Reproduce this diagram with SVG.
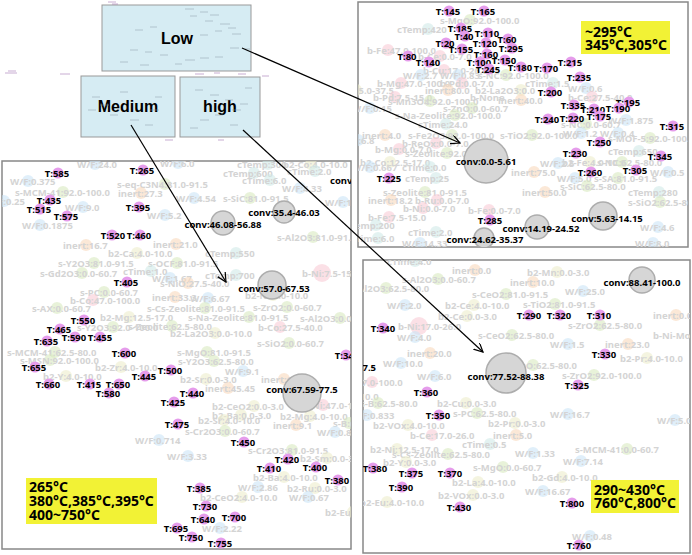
<svg xmlns="http://www.w3.org/2000/svg" width="692" height="555" viewBox="0 0 692 555">
<style>
.t{font-family:"Noto Sans","DejaVu Sans",sans-serif;font-weight:bold;font-size:9.5px;fill:#000;text-anchor:middle}
.ts{font-family:"Noto Sans","DejaVu Sans",sans-serif;font-weight:bold;font-size:9.5px;fill:#000}
.f{font-family:"Noto Sans","DejaVu Sans",sans-serif;font-weight:bold;font-size:9.5px;fill:#d4d4d4}
.p{fill:#e59ceb}
.cv{fill:#d6d6d6;stroke:#adadad;stroke-width:1.5}
.cb,.co,.cp,.cg,.cy,.ct{opacity:0.6}
.cb{fill:#cbe5f6}.co{fill:#f8d8bc}.cp{fill:#f8ccd5}.cg{fill:#d8e9c0}.cy{fill:#ececcc}.ct{fill:#d0eae8}
.panel{fill:#fff;stroke:#888;stroke-width:1.5}
.thumb{fill:#d6ecf3;stroke:#999;stroke-width:1}
.tl{font-family:"Liberation Sans",Arial,sans-serif;font-weight:bold;font-size:16px;fill:#000;text-anchor:middle}
.note{fill:#f2f235}
.nt{font-family:"Noto Sans","DejaVu Sans",sans-serif;font-weight:bold;font-size:14px;fill:#000}
.arr{stroke:#000;stroke-width:1.2;fill:none;marker-end:url(#ah)}
</style>
<defs>
<marker id="ah" markerUnits="userSpaceOnUse" markerWidth="10" markerHeight="10" refX="9" refY="4.5" orient="auto">
<path d="M0,0 L9,4.5 L0,9" fill="none" stroke="#000" stroke-width="1.2"/>
</marker>
<clipPath id="clipA"><rect x="358" y="2" width="330" height="245"/></clipPath>
<clipPath id="clipB"><rect x="2" y="161" width="349" height="388"/></clipPath>
<clipPath id="clipC"><rect x="363" y="260" width="327" height="293"/></clipPath>
</defs>
<rect width="692" height="555" fill="#fff"/>

<!-- thumbnail -->
<g id="thumb-low"><rect class="thumb" x="102" y="5" width="149" height="66"/><text class="tl" x="177" y="44">Low</text></g>
<g id="thumb-medium"><rect class="thumb" x="81" y="76" width="94" height="61"/><text class="tl" x="128" y="112">Medium</text></g>
<g id="thumb-high"><rect class="thumb" x="180" y="77" width="80" height="60"/><text class="tl" x="220" y="112">high</text></g>
<path d="M185,9h9M200,12h8M190,16h7M210,15h9M205,21h8M220,24h10M228,28h8M215,31h7M232,34h9M200,35h8M135,30h8M150,27h7M130,50h8M145,52h7M160,55h8M185,60h10M200,58h9M215,57h8M230,48h9M245,49h5M120,62h8M140,65h9M175,64h7M92,97h8M100,105h9M88,110h8M110,115h8M130,120h9M145,125h8M150,110h9M120,92h8M155,97h7M195,90h8M210,95h9M225,100h8M240,104h8M232,110h9M215,115h8M200,120h9M230,125h8M245,88h7M190,128h8" stroke="#8a9aa5" stroke-width="0.8" opacity="0.6"/>
<path d="M108,2h8M112,4h6M8,71h8M5,73h12M60,74h10M195,74h9M238,74h8M214,73h6M262,76h7M165,140h8M218,140h6" stroke="#a070b0" stroke-width="0.8" opacity="0.7"/>

<!-- panel A: Low detail -->
<rect class="panel" x="358" y="2" width="330" height="245"/>
<g clip-path="url(#clipA)">
<g id="a-f1"><circle class="cg" cx="470" cy="20" r="6"/><text class="f" x="440" y="23.5">s-MgO:92.0-100.0</text></g>
<g id="a-f2"><circle class="ct" cx="428" cy="29" r="6"/><text class="f" x="397" y="32.5">cTemp:420</text></g>
<g id="a-f3"><circle class="cp" cx="388" cy="50" r="6"/><text class="f" x="367" y="53.5">b-Fe:47.0-100.0</text></g>
<g id="a-f4"><circle class="cp" cx="440" cy="56" r="6"/><text class="f" x="418" y="59.5">b-Ce:0.0-7.0</text></g>
<g id="a-f5"><circle class="cp" cx="444" cy="70" r="6"/><text class="f" x="423" y="73.5">b-Cu:17.0-26.0</text></g>
<g id="a-f6"><circle class="cb" cx="421" cy="75" r="6"/><text class="f" x="403" y="78.5">W/F:2.7</text></g>
<g id="a-f7"><circle class="cb" cx="458" cy="75" r="6"/><text class="f" x="440" y="78.5">W/F:0.83</text></g>
<g id="a-f8"><circle class="cg" cx="506" cy="75" r="6"/><text class="f" x="478" y="78.5">s-NC:92.0-100.0</text></g>
<g id="a-f9"><circle class="cp" cx="401" cy="83" r="6"/><text class="f" x="377" y="86.5">b-Mg:47.0-100.0</text></g>
<g id="a-f10"><circle class="cp" cx="462" cy="83" r="6"/><text class="f" x="440" y="86.5">b-Pd:0.0-7.0</text></g>
<g id="a-f11"><circle class="ct" cx="553" cy="83" r="6"/><text class="f" x="525" y="86.5">cTime:1.5</text></g>
<g id="a-f12"><circle class="cb" cx="586" cy="88" r="6"/><text class="f" x="568" y="91.5">W/F:0.6</text></g>
<g id="a-f13"><circle class="cy" cx="356" cy="90" r="6"/><text class="f" x="321" y="93.5">b2-Mo:25.0-37.5</text></g>
<g id="a-f14"><circle class="co" cx="448" cy="90" r="6"/><text class="f" x="425" y="93.5">inert:80.0</text></g>
<g id="a-f15"><circle class="cy" cx="521" cy="90" r="6"/><text class="f" x="475" y="93.5">b2-La2O3:0.0</text></g>
<g id="a-f16"><circle class="cp" cx="395" cy="97" r="6"/><text class="f" x="373" y="100.5">b-Pd:7.5-15.0</text></g>
<g id="a-f17"><text class="f" x="470" y="100.5">b-None</text></g>
<g id="a-f18"><circle class="co" cx="521" cy="100" r="6"/><text class="f" x="498" y="103.5">inert:40.0</text></g>
<g id="a-f19"><circle class="cp" cx="592" cy="97" r="6"/><text class="f" x="568" y="100.5">b-Ce:27.5-40.0</text></g>
<g id="a-f20"><circle class="cg" cx="430" cy="101" r="6"/><text class="f" x="388" y="104.5">s-Mn3O4:92.0-100.0</text></g>
<g id="a-f21"><circle class="cb" cx="370" cy="108" r="6"/><text class="f" x="352" y="111.5">W/F:0.15</text></g>
<g id="a-f22"><circle class="cg" cx="472" cy="108" r="6"/><text class="f" x="443" y="111.5">s-ZnO:0.0-60.7</text></g>
<g id="a-f25"><circle class="cg" cx="455" cy="115" r="6"/><text class="f" x="395" y="118.5">s-Na-Zeolite:92.0-100.0</text></g>
<g id="a-f26"><circle class="cb" cx="626" cy="120" r="6"/><text class="f" x="608" y="123.5">W/F:1.875</text></g>
<g id="a-f28"><circle class="ct" cx="446" cy="124" r="6"/><text class="f" x="418" y="127.5">cTime:24.0</text></g>
<g id="a-f29"><circle class="cg" cx="586" cy="124" r="6"/><text class="f" x="561" y="127.5">s-NC:0.0-60.7</text></g>
<g id="a-f30"><circle class="cb" cx="581" cy="133" r="6"/><text class="f" x="563" y="136.5">W/F:1.2</text></g>
<g id="a-f30b"><circle class="cb" cx="618" cy="133" r="6"/><text class="f" x="600" y="136.5">W/F:0.4</text></g>
<g id="a-f31"><circle class="co" cx="385" cy="135" r="6"/><text class="f" x="362" y="138.5">inert:4.0</text></g>
<g id="a-f32"><circle class="cg" cx="452" cy="135" r="6"/><text class="f" x="408" y="138.5">s-Fe2O3:92.0-100.0</text></g>
<g id="a-f33"><circle class="cg" cx="532" cy="135" r="6"/><text class="f" x="500" y="138.5">s-TiO2:92.0-100.0</text></g>
<g id="a-f34"><circle class="cg" cx="650" cy="138" r="6"/><text class="f" x="608" y="141.5">s-MOF-5:92.0-100.0</text></g>
<g id="a-f35"><circle class="cb" cx="358" cy="140" r="6"/><text class="f" x="340" y="143.5">W/F:6.8</text></g>
<g id="a-f36"><circle class="cp" cx="436" cy="143" r="6"/><text class="f" x="402" y="146.5">b-ReOx:0.0-7.0</text></g>
<g id="a-f38"><circle class="cp" cx="399" cy="149" r="6"/><text class="f" x="375" y="152.5">b-Mg:0.0-7.0</text></g>
<g id="a-f37"><circle class="cg" cx="447" cy="153" r="6"/><text class="f" x="405" y="156.5">s-Zeolite:92.0-100.0</text></g>
<g id="a-f39"><circle class="ct" cx="639" cy="151" r="6"/><text class="f" x="608" y="154.5">cTemp:650</text></g>
<g id="a-f40"><circle class="cy" cx="390" cy="162" r="6"/><text class="f" x="360" y="165.5">b2-Co:12.5-17.0</text></g>
<g id="a-f41"><circle class="cy" cx="590" cy="162" r="6"/><text class="f" x="562" y="165.5">b2-Fe:4.0-10.0</text></g>
<g id="a-f41b"><circle class="cg" cx="622" cy="162" r="6"/><text class="f" x="597" y="165.5">s-NC:62.5-80.0</text></g>
<g id="a-f42"><circle class="cb" cx="370" cy="167" r="6"/><text class="f" x="352" y="170.5">W/F:0.667</text></g>
<g id="a-f43"><circle class="cb" cx="558" cy="163" r="6"/><text class="f" x="540" y="166.5">W/F:2.5</text></g>
<g id="a-f44"><circle class="ct" cx="430" cy="167" r="6"/><text class="f" x="402" y="170.5">cTime:0.0</text></g>
<g id="a-f45"><circle class="co" cx="534" cy="172" r="6"/><text class="f" x="511" y="175.5">inert:75.0</text></g>
<g id="a-f46"><circle class="cb" cx="668" cy="172" r="6"/><text class="f" x="650" y="175.5">W/F:0.5</text></g>
<g id="a-f47"><circle class="ct" cx="436" cy="178" r="6"/><text class="f" x="405" y="181.5">cTemp:25</text></g>
<g id="a-f48"><circle class="cb" cx="575" cy="178" r="6"/><text class="f" x="557" y="181.5">W/F:5.0</text></g>
<g id="a-f49"><circle class="cg" cx="618" cy="178" r="6"/><text class="f" x="594" y="181.5">s-SA:81.0-91.5</text></g>
<g id="a-f50"><circle class="cg" cx="587" cy="186" r="6"/><text class="f" x="560" y="189.5">s-SiC:62.5-80.0</text></g>
<g id="a-f51"><circle class="cg" cx="425" cy="192" r="6"/><text class="f" x="383" y="195.5">s-Zeolite:81.0-91.5</text></g>
<g id="a-f52"><circle class="co" cx="545" cy="192" r="6"/><text class="f" x="522" y="195.5">inert:50.0</text></g>
<g id="a-f53"><circle class="ct" cx="659" cy="192" r="6"/><text class="f" x="628" y="195.5">cTemp:280</text></g>
<g id="a-f54"><circle class="co" cx="391" cy="200" r="6"/><text class="f" x="368" y="203.5">inert:18.2</text></g>
<g id="a-f55"><circle class="cp" cx="437" cy="200" r="6"/><text class="f" x="415" y="203.5">b-Ru:0.0-7.0</text></g>
<g id="a-f56"><circle class="cg" cx="660" cy="202" r="6"/><text class="f" x="628" y="205.5">s-SiO2:62.5-80.0</text></g>
<g id="a-f57"><circle class="cp" cx="423" cy="208" r="6"/><text class="f" x="403" y="211.5">b-Ni:0.0-7.0</text></g>
<g id="a-f58"><circle class="cp" cx="489" cy="210" r="6"/><text class="f" x="468" y="213.5">b-Fe:0.0-7.0</text></g>
<g id="a-f59"><circle class="cp" cx="389" cy="217" r="6"/><text class="f" x="368" y="220.5">b-Fe:7.5-15.0</text></g>
<g id="a-f60"><circle class="ct" cx="376" cy="225" r="6"/><text class="f" x="345" y="228.5">cTemp:200</text></g>
<g id="a-f61"><circle class="cb" cx="658" cy="227" r="6"/><text class="f" x="640" y="230.5">W/F:4.6</text></g>
<g id="a-f62"><circle class="ct" cx="436" cy="232" r="6"/><text class="f" x="408" y="235.5">cTime:2.0</text></g>
<g id="a-f63"><circle class="ct" cx="378" cy="238" r="6"/><text class="f" x="350" y="241.5">cTime:6.0</text></g>
<g id="a-f64"><circle class="cb" cx="420" cy="243" r="6"/><text class="f" x="402" y="246.5">W/F:14.33</text></g>
<g id="a-f65"><circle class="cb" cx="653" cy="243" r="6"/><text class="f" x="635" y="246.5">W/F:8.0</text></g>

<g id="a-conv0"><circle class="cv" cx="486" cy="161" r="22"/><text class="t" x="486" y="165">conv:0.0-5.61</text></g>
<g id="a-conv5"><circle class="cv" cx="603" cy="216" r="14"/><text class="t" x="607" y="222">conv:5.63-14.15</text></g>
<g id="a-conv14"><circle class="cv" cx="537" cy="227" r="12"/><text class="t" x="541" y="231.5">conv:14.19-24.52</text></g>
<g id="a-conv24"><circle class="cv" cx="484" cy="238" r="10"/><text class="t" x="485" y="242.5">conv:24.62-35.37</text></g>

<g id="a-t145"><circle class="p" cx="449" cy="11" r="5.5"/><text class="t" x="448" y="14.5">T:145</text></g>
<g id="a-t165"><circle class="p" cx="484" cy="11" r="5.5"/><text class="t" x="483" y="14.5">T:165</text></g>
<g id="a-t185"><circle class="p" cx="461" cy="28" r="5.5"/><text class="t" x="460" y="31.5">T:185</text></g>
<g id="a-t40"><circle class="p" cx="465" cy="36" r="5.5"/><text class="t" x="464" y="39.5">T:40</text></g>
<g id="a-t110"><circle class="p" cx="488" cy="33" r="5.5"/><text class="t" x="487" y="36.5">T:110</text></g>
<g id="a-t60"><circle class="p" cx="508" cy="39" r="5.5"/><text class="t" x="507" y="42.5">T:60</text></g>
<g id="a-t20"><circle class="p" cx="446" cy="43" r="5.5"/><text class="t" x="445" y="46.5">T:20</text></g>
<g id="a-t120"><circle class="p" cx="486" cy="43" r="5.5"/><text class="t" x="485" y="46.5">T:120</text></g>
<g id="a-t155"><circle class="p" cx="462" cy="49" r="5.5"/><text class="t" x="461" y="52.5">T:155</text></g>
<g id="a-t295"><circle class="p" cx="512" cy="48" r="5.5"/><text class="t" x="511" y="51.5">T:295</text></g>
<g id="a-t160"><circle class="p" cx="487" cy="54" r="5.5"/><text class="t" x="486" y="57.5">T:160</text></g>
<g id="a-t80"><circle class="p" cx="408" cy="56" r="5.5"/><text class="t" x="407" y="59.5">T:80</text></g>
<g id="a-t140"><circle class="p" cx="429" cy="62" r="5.5"/><text class="t" x="428" y="65.5">T:140</text></g>
<g id="a-t150"><circle class="p" cx="505" cy="60" r="5.5"/><text class="t" x="504" y="63.5">T:150</text></g>
<g id="a-t100"><circle class="p" cx="480" cy="62" r="5.5"/><text class="t" x="479" y="65.5">T:100</text></g>
<g id="a-t245"><circle class="p" cx="489" cy="69" r="5.5"/><text class="t" x="488" y="72.5">T:245</text></g>
<g id="a-t180"><circle class="p" cx="521" cy="67" r="5.5"/><text class="t" x="520" y="70.5">T:180</text></g>
<g id="a-t170"><circle class="p" cx="547" cy="68" r="5.5"/><text class="t" x="546" y="71.5">T:170</text></g>
<g id="a-t215"><circle class="p" cx="571" cy="62" r="5.5"/><text class="t" x="570" y="65.5">T:215</text></g>
<g id="a-t235"><circle class="p" cx="580" cy="77" r="5.5"/><text class="t" x="579" y="80.5">T:235</text></g>
<g id="a-t200"><circle class="p" cx="551" cy="92" r="5.5"/><text class="t" x="550" y="95.5">T:200</text></g>
<g id="a-t335"><circle class="p" cx="574" cy="105" r="5.5"/><text class="t" x="573" y="108.5">T:335</text></g>
<g id="a-t195"><circle class="p" cx="629" cy="102" r="5.5"/><text class="t" x="628" y="105.5">T:195</text></g>
<g id="a-t210"><circle class="p" cx="594" cy="109" r="5.5"/><text class="t" x="593" y="112.5">T:210</text></g>
<g id="a-t190"><circle class="p" cx="619" cy="108" r="5.5"/><text class="t" x="618" y="111.5">T:190</text></g>
<g id="a-t175"><circle class="p" cx="600" cy="116" r="5.5"/><text class="t" x="599" y="119.5">T:175</text></g>
<g id="a-t240"><circle class="p" cx="548" cy="119" r="5.5"/><text class="t" x="547" y="122.5">T:240</text></g>
<g id="a-t220"><circle class="p" cx="573" cy="118" r="5.5"/><text class="t" x="572" y="121.5">T:220</text></g>
<g id="a-t315"><circle class="p" cx="673" cy="126" r="5.5"/><text class="t" x="672" y="129.5">T:315</text></g>
<g id="a-t250"><circle class="p" cx="600" cy="142" r="5.5"/><text class="t" x="599" y="145.5">T:250</text></g>
<g id="a-t230"><circle class="p" cx="576" cy="153" r="5.5"/><text class="t" x="575" y="156.5">T:230</text></g>
<g id="a-t345"><circle class="p" cx="661" cy="156" r="5.5"/><text class="t" x="660" y="159.5">T:345</text></g>
<g id="a-t260"><circle class="p" cx="591" cy="172" r="5.5"/><text class="t" x="590" y="175.5">T:260</text></g>
<g id="a-t305"><circle class="p" cx="636" cy="170" r="5.5"/><text class="t" x="635" y="173.5">T:305</text></g>
<g id="a-t225"><circle class="p" cx="389" cy="178" r="5.5"/><text class="t" x="389" y="181.5">T:225</text></g>
<g id="a-t285"><circle class="p" cx="490" cy="220" r="5.5"/><text class="t" x="490" y="223.5">T:285</text></g>
</g>
<g id="a-note"><rect class="note" x="581" y="21" width="89" height="33"/><text class="nt" x="585" y="37">~295°C</text><text class="nt" x="585" y="50">345°C,305°C</text></g>

<!-- panel B: Medium detail -->
<rect class="panel" x="2" y="161" width="349" height="388"/>
<g clip-path="url(#clipB)">
<g id="b-f1"><circle class="cb" cx="95" cy="164" r="6"/><text class="f" x="77" y="167.5">W/F:24.0</text></g>
<g id="b-f2"><circle class="cb" cx="178" cy="163" r="6"/><text class="f" x="160" y="166.5">W/F:6.0</text></g>
<g id="b-f3"><circle class="ct" cx="268" cy="164" r="6"/><text class="f" x="237" y="167.5">cTemp:300</text></g>
<g id="b-f4"><circle class="cy" cx="311" cy="164" r="6"/><text class="f" x="283" y="167.5">b2-Co:4.0-10.0</text></g>
<g id="b-f5"><circle class="cb" cx="28" cy="181" r="6"/><text class="f" x="10" y="184.5">W/F:0.375</text></g>
<g id="b-f6"><circle class="cg" cx="165" cy="184" r="6"/><text class="f" x="117" y="187.5">s-eq-C3N4:81.0-91.5</text></g>
<g id="b-f7"><circle class="ct" cx="254" cy="173" r="6"/><text class="f" x="223" y="176.5">cTemp:600</text></g>
<g id="b-f8"><circle class="ct" cx="315" cy="171" r="6"/><text class="f" x="287" y="174.5">cTime:2.0</text></g>
<g id="b-f9"><circle class="ct" cx="270" cy="180" r="6"/><text class="f" x="242" y="183.5">cTime:6.0</text></g>
<g id="b-f10"><circle class="cg" cx="63" cy="192" r="6"/><text class="f" x="15" y="195.5">s-MCM-41:92.0-100.0</text></g>
<g id="b-f11"><circle class="co" cx="141" cy="193" r="6"/><text class="f" x="118" y="196.5">inert:27.3</text></g>
<g id="b-f12"><circle class="cb" cx="300" cy="188" r="6"/><text class="f" x="282" y="191.5">W/F:4.33</text></g>
<g id="b-f13"><circle class="cb" cx="4" cy="201" r="6"/><text class="f" x="-15" y="204.5">W/F:0.25</text></g>
<g id="b-f14"><circle class="cb" cx="194" cy="198" r="6"/><text class="f" x="176" y="201.5">W/F:4.54</text></g>
<g id="b-f15"><circle class="cg" cx="250" cy="198" r="6"/><text class="f" x="223" y="201.5">s-SiC:81.0-91.5</text></g>
<g id="b-f16"><circle class="cb" cx="343" cy="202" r="6"/><text class="f" x="325" y="205.5">W/F:1.664</text></g>
<g id="b-f17"><circle class="cb" cx="83" cy="207" r="6"/><text class="f" x="65" y="210.5">W/F:9.0</text></g>
<g id="b-f18"><circle class="cb" cx="165" cy="215" r="6"/><text class="f" x="147" y="218.5">W/F:5.2</text></g>
<g id="b-f19"><circle class="cb" cx="40" cy="225" r="6"/><text class="f" x="22" y="228.5">W/F:0.1875</text></g>
<g id="b-f20"><circle class="cg" cx="313" cy="237" r="6"/><text class="f" x="277" y="240.5">s-Al2O3:81.0-91.5</text></g>
<g id="b-f21"><circle class="co" cx="176" cy="244" r="6"/><text class="f" x="153" y="247.5">inert:21.0</text></g>
<g id="b-f22"><circle class="co" cx="86" cy="245" r="6"/><text class="f" x="63" y="248.5">inert:16.7</text></g>
<g id="b-f23"><circle class="cy" cx="137" cy="253" r="6"/><text class="f" x="108" y="256.5">b2-Ca:4.0-10.0</text></g>
<g id="b-f24"><circle class="ct" cx="236" cy="253" r="6"/><text class="f" x="205" y="256.5">cTemp:550</text></g>
<g id="b-f25"><circle class="cg" cx="94" cy="263" r="6"/><text class="f" x="58" y="266.5">s-Y2O3:81.0-91.5</text></g>
<g id="b-f26"><circle class="cg" cx="177" cy="263" r="6"/><text class="f" x="148" y="266.5">s-OCF:81.0-91.5</text></g>
<g id="b-f27"><circle class="cg" cx="82" cy="273" r="6"/><text class="f" x="40" y="276.5">s-Gd2O3:0.0-60.7</text></g>
<g id="b-f28"><circle class="ct" cx="151" cy="271" r="6"/><text class="f" x="123" y="274.5">cTime:1.0</text></g>
<g id="b-f29"><circle class="cb" cx="170" cy="278" r="6"/><text class="f" x="152" y="281.5">W/F:1.67</text></g>
<g id="b-f30"><circle class="ct" cx="236" cy="275" r="6"/><text class="f" x="205" y="278.5">cTemp:700</text></g>
<g id="b-f31"><circle class="cp" cx="322" cy="273" r="9"/><text class="f" x="302" y="276.5">b-Ni:7.5-15.0</text></g>
<g id="b-f32"><circle class="co" cx="188" cy="283" r="6"/><text class="f" x="160" y="286.5">s-NiO:27.5-40.0</text></g>
<g id="b-f33"><circle class="cg" cx="104" cy="292" r="6"/><text class="f" x="80" y="295.5">s-PC:0.0-60.7</text></g>
<g id="b-f34"><circle class="cp" cx="93" cy="300" r="6"/><text class="f" x="70" y="303.5">b-Co:47.0-100.0</text></g>
<g id="b-f35"><circle class="co" cx="175" cy="297" r="6"/><text class="f" x="152" y="300.5">inert:33.3</text></g>
<g id="b-f36"><circle class="cb" cx="208" cy="298" r="6"/><text class="f" x="190" y="301.5">W/F:6.67</text></g>
<g id="b-f37"><circle class="cy" cx="273" cy="295" r="6"/><text class="f" x="245" y="298.5">b2-Ni:4.0-10.0</text></g>
<g id="b-f38"><circle class="cg" cx="57" cy="308" r="6"/><text class="f" x="32" y="311.5">s-AX:0.0-60.7</text></g>
<g id="b-f39"><circle class="cg" cx="205" cy="308" r="6"/><text class="f" x="147" y="311.5">s-Cs-Zeolite:81.0-91.5</text></g>
<g id="b-f40"><circle class="cg" cx="287" cy="307" r="6"/><text class="f" x="253" y="310.5">s-ZrO2:0.0-60.7</text></g>
<g id="b-f41"><circle class="cy" cx="129" cy="317" r="6"/><text class="f" x="100" y="320.5">b2-Mg:12.5-17.0</text></g>
<g id="b-f42"><circle class="cg" cx="249" cy="317" r="6"/><text class="f" x="188" y="320.5">s-Na-Zeolite:81.0-91.5</text></g>
<g id="b-f43"><circle class="cg" cx="340" cy="318" r="6"/><text class="f" x="300" y="321.5">s-Al2O3:0.0-60.7</text></g>
<g id="b-f44"><circle class="cg" cx="113" cy="327" r="6"/><text class="f" x="77" y="330.5">s-Y2O3:92.0-100.0</text></g>
<g id="b-f45"><circle class="cg" cx="172" cy="326" r="6"/><text class="f" x="128" y="329.5">s-Zeolite:62.5-80.0</text></g>
<g id="b-f46"><circle class="cp" cx="280" cy="327" r="6"/><text class="f" x="258" y="330.5">b-Co:27.5-40.0</text></g>
<g id="b-f47"><circle class="cy" cx="215" cy="333" r="6"/><text class="f" x="170" y="336.5">b2-La2O3:0.0-10.0</text></g>
<g id="b-f48"><circle class="cg" cx="289" cy="343" r="6"/><text class="f" x="257" y="346.5">s-SiO2:0.0-60.7</text></g>
<g id="b-f49"><circle class="cg" cx="55" cy="352" r="6"/><text class="f" x="7" y="355.5">s-MCM-41:62.5-80.0</text></g>
<g id="b-f50"><circle class="cg" cx="207" cy="352" r="6"/><text class="f" x="177" y="355.5">s-MgO:81.0-91.5</text></g>
<g id="b-f51"><circle class="cg" cx="50" cy="360" r="6"/><text class="f" x="20" y="363.5">s-MSN:92.0-100.0</text></g>
<g id="b-f52"><circle class="cg" cx="214" cy="361" r="6"/><text class="f" x="178" y="364.5">s-Y2O3:62.5-80.0</text></g>
<g id="b-f53"><circle class="cy" cx="121" cy="367" r="6"/><text class="f" x="95" y="370.5">b2-Zr:4.0-10.0</text></g>
<g id="b-f54"><circle class="cb" cx="243" cy="371" r="6"/><text class="f" x="225" y="374.5">W/F:9.1</text></g>
<g id="b-f55"><circle class="cy" cx="66" cy="376" r="6"/><text class="f" x="43" y="379.5">b2-Y:4.0-10.0</text></g>
<g id="b-f56"><circle class="cy" cx="206" cy="379" r="6"/><text class="f" x="180" y="382.5">b2-Sr:0.0-3.0</text></g>
<g id="b-f57"><circle class="co" cx="284" cy="379" r="6"/><text class="f" x="261" y="382.5">inert:6.5</text></g>
<g id="b-f58"><circle class="co" cx="228" cy="388" r="6"/><text class="f" x="205" y="391.5">inert:45.45</text></g>
<g id="b-f59"><circle class="cy" cx="254" cy="406" r="6"/><text class="f" x="212" y="409.5">b2-CeO2:0.0-3.0</text></g>
<g id="b-f60"><circle class="cp" cx="323" cy="405" r="6"/><text class="f" x="303" y="408.5">b-Ni:47.0-100.0</text></g>
<g id="b-f61"><circle class="cy" cx="241" cy="415" r="6"/><text class="f" x="212" y="418.5">b2-Ba:0.0-3.0</text></g>
<g id="b-f62"><circle class="cy" cx="310" cy="416" r="6"/><text class="f" x="280" y="419.5">b2-Mg:4.0-10.0</text></g>
<g id="b-f63"><circle class="cy" cx="224" cy="420" r="6"/><text class="f" x="198" y="423.5">b2-Sr:4.0-10.0</text></g>
<g id="b-f64"><circle class="co" cx="296" cy="425" r="6"/><text class="f" x="273" y="428.5">inert:9.1</text></g>
<g id="b-f65"><circle class="cg" cx="349" cy="423" r="6"/><text class="f" x="333" y="426.5">s-B:62.5-80.0</text></g>
<g id="b-f66"><circle class="cg" cx="225" cy="431" r="6"/><text class="f" x="185" y="434.5">s-Cr2O3:0.0-60.7</text></g>
<g id="b-f67"><circle class="cb" cx="335" cy="432" r="6"/><text class="f" x="317" y="435.5">W/F:0.833</text></g>
<g id="b-f68"><circle class="cb" cx="159" cy="440" r="6"/><text class="f" x="135" y="443.5">W/F:0.714</text></g>
<g id="b-f69"><circle class="cg" cx="292" cy="450" r="6"/><text class="f" x="248" y="453.5">s-Cr2O3:81.0-91.5</text></g>
<g id="b-f70"><circle class="cb" cx="188" cy="456" r="6"/><text class="f" x="167" y="459.5">W/F:3.33</text></g>
<g id="b-f71"><circle class="cy" cx="327" cy="458" r="6"/><text class="f" x="300" y="461.5">b2-Sm:0.0-3.0</text></g>
<g id="b-f72"><circle class="cy" cx="284" cy="477" r="6"/><text class="f" x="253" y="480.5">b2-Ba:4.0-10.0</text></g>
<g id="b-f73"><circle class="cb" cx="258" cy="487" r="6"/><text class="f" x="238" y="490.5">W/F:2.86</text></g>
<g id="b-f74"><circle class="cy" cx="315" cy="488" r="6"/><text class="f" x="287" y="491.5">b2-Ru:0.0-3.0</text></g>
<g id="b-f75"><circle class="cy" cx="242" cy="497" r="6"/><text class="f" x="200" y="500.5">b2-CeO2:4.0-10.0</text></g>
<g id="b-f76"><circle class="cb" cx="308" cy="497" r="6"/><text class="f" x="289" y="500.5">W/F:0.67</text></g>
<g id="b-f77"><circle class="cy" cx="353" cy="512" r="6"/><text class="f" x="325" y="515.5">b2-Eu:4.0-10.0</text></g>
<g id="b-f78"><circle class="cb" cx="220" cy="528" r="6"/><text class="f" x="202" y="531.5">W/F:2.22</text></g>

<g id="b-conv24"><text class="ts" x="330" y="184">conv:24.62-35.37</text></g>
<g id="b-conv46"><circle class="cv" cx="223" cy="223" r="12"/><text class="t" x="223" y="227.5">conv:46.08-56.88</text></g>
<g id="b-conv35"><circle class="cv" cx="284" cy="212" r="11"/><text class="t" x="284" y="215.5">conv:35.4-46.03</text></g>
<g id="b-conv57"><circle class="cv" cx="272" cy="285" r="14"/><text class="t" x="274" y="291.5">conv:57.0-67.53</text></g>
<g id="b-conv67"><circle class="cv" cx="302" cy="393" r="19"/><text class="t" x="302" y="392.5">conv:67.59-77.5</text></g>

<g id="b-t585"><circle class="p" cx="58" cy="173" r="5.5"/><text class="t" x="57" y="176.5">T:585</text></g>
<g id="b-t265"><circle class="p" cx="143" cy="170" r="5.5"/><text class="t" x="142" y="173.5">T:265</text></g>
<g id="b-t435"><circle class="p" cx="50" cy="200" r="5.5"/><text class="t" x="49" y="203.5">T:435</text></g>
<g id="b-t515"><circle class="p" cx="40" cy="209" r="5.5"/><text class="t" x="39" y="212.5">T:515</text></g>
<g id="b-t575"><circle class="p" cx="67" cy="216" r="5.5"/><text class="t" x="66" y="219.5">T:575</text></g>
<g id="b-t395"><circle class="p" cx="139" cy="207" r="5.5"/><text class="t" x="138" y="210.5">T:395</text></g>
<g id="b-t520"><circle class="p" cx="112" cy="235" r="5.5"/><text class="t" x="113" y="238.5">T:520</text></g>
<g id="b-t460"><circle class="p" cx="140" cy="235" r="5.5"/><text class="t" x="139" y="238.5">T:460</text></g>
<g id="b-t405"><circle class="p" cx="127" cy="282" r="5.5"/><text class="t" x="126" y="285.5">T:405</text></g>
<g id="b-t550"><circle class="p" cx="84" cy="320" r="5.5"/><text class="t" x="83" y="323.5">T:550</text></g>
<g id="b-t465"><circle class="p" cx="60" cy="329" r="5.5"/><text class="t" x="59" y="332.5">T:465</text></g>
<g id="b-t590"><circle class="p" cx="75" cy="337" r="5.5"/><text class="t" x="74" y="340.5">T:590</text></g>
<g id="b-t455"><circle class="p" cx="100" cy="337" r="5.5"/><text class="t" x="100" y="340.5">T:455</text></g>
<g id="b-t635"><circle class="p" cx="47" cy="341" r="5.5"/><text class="t" x="46" y="344.5">T:635</text></g>
<g id="b-t600"><circle class="p" cx="125" cy="353" r="5.5"/><text class="t" x="124" y="356.5">T:600</text></g>
<g id="b-t655"><circle class="p" cx="35" cy="367" r="5.5"/><text class="t" x="34" y="370.5">T:655</text></g>
<g id="b-t500"><circle class="p" cx="171" cy="370" r="5.5"/><text class="t" x="170" y="373.5">T:500</text></g>
<g id="b-t445"><circle class="p" cx="145" cy="376" r="5.5"/><text class="t" x="144" y="379.5">T:445</text></g>
<g id="b-t660"><circle class="p" cx="49" cy="384" r="5.5"/><text class="t" x="48" y="387.5">T:660</text></g>
<g id="b-t415"><circle class="p" cx="90" cy="384" r="5.5"/><text class="t" x="89" y="387.5">T:415</text></g>
<g id="b-t650"><circle class="p" cx="119" cy="384" r="5.5"/><text class="t" x="118" y="387.5">T:650</text></g>
<g id="b-t580"><circle class="p" cx="109" cy="393" r="5.5"/><text class="t" x="108" y="396.5">T:580</text></g>
<g id="b-t440"><circle class="p" cx="193" cy="393" r="5.5"/><text class="t" x="192" y="396.5">T:440</text></g>
<g id="b-t425"><circle class="p" cx="174" cy="402" r="5.5"/><text class="t" x="173" y="405.5">T:425</text></g>
<g id="b-t340"><circle class="p" cx="346" cy="355" r="5.5"/><text class="t" x="347" y="358.5">T:340</text></g>
<g id="b-t475"><circle class="p" cx="178" cy="424" r="5.5"/><text class="t" x="177" y="427.5">T:475</text></g>
<g id="b-t450"><circle class="p" cx="244" cy="442" r="5.5"/><text class="t" x="243" y="445.5">T:450</text></g>
<g id="b-t420"><circle class="p" cx="288" cy="459" r="5.5"/><text class="t" x="287" y="462.5">T:420</text></g>
<g id="b-t410"><circle class="p" cx="270" cy="468" r="5.5"/><text class="t" x="269" y="471.5">T:410</text></g>
<g id="b-t400"><circle class="p" cx="316" cy="467" r="5.5"/><text class="t" x="315" y="470.5">T:400</text></g>
<g id="b-t380"><circle class="p" cx="338" cy="480" r="5.5"/><text class="t" x="337" y="483.5">T:380</text></g>
<g id="b-t385"><circle class="p" cx="200" cy="488" r="5.5"/><text class="t" x="199" y="491.5">T:385</text></g>
<g id="b-t730"><circle class="p" cx="206" cy="506" r="5.5"/><text class="t" x="205" y="509.5">T:730</text></g>
<g id="b-t700"><circle class="p" cx="235" cy="517" r="5.5"/><text class="t" x="234" y="520.5">T:700</text></g>
<g id="b-t640"><circle class="p" cx="204" cy="519" r="5.5"/><text class="t" x="203" y="522.5">T:640</text></g>
<g id="b-t695"><circle class="p" cx="177" cy="528" r="5.5"/><text class="t" x="176" y="531.5">T:695</text></g>
<g id="b-t750"><circle class="p" cx="192" cy="537" r="5.5"/><text class="t" x="191" y="540.5">T:750</text></g>
<g id="b-t755"><circle class="p" cx="221" cy="543" r="5.5"/><text class="t" x="220" y="546.5">T:755</text></g>
</g>
<g id="b-note"><rect class="note" x="26" y="478" width="131" height="46"/><text class="nt" x="29" y="492">265°C</text><text class="nt" x="29" y="506">380°C,385°C,395°C</text><text class="nt" x="29" y="520">400~750°C</text></g>

<!-- panel C: high detail -->
<rect class="panel" x="363" y="260" width="327" height="293"/>
<g clip-path="url(#clipC)">
<g id="c-f1"><circle class="ct" cx="415" cy="261" r="6"/><text class="f" x="387" y="264.5">cTime:4.0</text></g>
<g id="c-f2"><circle class="co" cx="475" cy="270" r="6"/><text class="f" x="452" y="273.5">inert:0.0</text></g>
<g id="c-f3"><circle class="cy" cx="557" cy="272" r="6"/><text class="f" x="527" y="275.5">b2-Mn:0.0-3.0</text></g>
<g id="c-f4"><circle class="cg" cx="438" cy="279" r="6"/><text class="f" x="402" y="282.5">s-Al2O3:0.0-60.7</text></g>
<g id="c-f5"><circle class="co" cx="533" cy="282" r="6"/><text class="f" x="510" y="285.5">inert:10.0</text></g>
<g id="c-f6"><circle class="cg" cx="386" cy="288" r="6"/><text class="f" x="350" y="291.5">s-Al2O3:62.5-80.0</text></g>
<g id="c-f7"><circle class="cg" cx="506" cy="294" r="6"/><text class="f" x="472" y="297.5">s-CeO2:81.0-91.5</text></g>
<g id="c-f8"><circle class="cb" cx="583" cy="291" r="6"/><text class="f" x="565" y="294.5">W/F:25.0</text></g>
<g id="c-f9"><circle class="cb" cx="405" cy="305" r="6"/><text class="f" x="387" y="308.5">W/F:2.0</text></g>
<g id="c-f10"><circle class="cy" cx="474" cy="305" r="6"/><text class="f" x="445" y="308.5">b2-Ce:4.0-10.0</text></g>
<g id="c-f11"><circle class="cg" cx="555" cy="304" r="6"/><text class="f" x="523" y="307.5">s-TiO2:81.0-91.5</text></g>
<g id="c-f12"><circle class="cy" cx="467" cy="316" r="6"/><text class="f" x="438" y="319.5">b2-Ce:0.0-3.0</text></g>
<g id="c-f13"><circle class="co" cx="676" cy="315" r="6"/><text class="f" x="653" y="318.5">inert:0.0</text></g>
<g id="c-f14"><circle class="cp" cx="419" cy="326" r="9"/><text class="f" x="398" y="329.5">b-Ni:17.0-26.0</text></g>
<g id="c-f15"><circle class="cg" cx="600" cy="325" r="6"/><text class="f" x="568" y="328.5">s-ZrO2:62.5-80.0</text></g>
<g id="c-f16"><text class="f" x="653" y="338.5">b-Ni-Mo:0.0-7.0</text></g>
<g id="c-f17"><circle class="cb" cx="415" cy="337" r="6"/><text class="f" x="397" y="340.5">W/F:4.0</text></g>
<g id="c-f18"><circle class="cg" cx="512" cy="335" r="6"/><text class="f" x="478" y="338.5">s-CeO2:62.5-80.0</text></g>
<g id="c-f19"><circle class="cb" cx="568" cy="344" r="6"/><text class="f" x="550" y="347.5">W/F:1.5</text></g>
<g id="c-f20"><circle class="co" cx="628" cy="344" r="6"/><text class="f" x="605" y="347.5">inert:23.0</text></g>
<g id="c-f21"><circle class="co" cx="430" cy="353" r="6"/><text class="f" x="407" y="356.5">inert:20.0</text></g>
<g id="c-f22"><circle class="cy" cx="647" cy="358" r="6"/><text class="f" x="620" y="361.5">b2-Pr:4.0-10.0</text></g>
<g id="c-f23"><circle class="cb" cx="401" cy="363" r="6"/><text class="f" x="383" y="366.5">W/F:10.0</text></g>
<g id="c-f24"><circle class="cg" cx="533" cy="365" r="6"/><text class="f" x="503" y="368.5">s-MgO:62.5-80.0</text></g>
<g id="c-f25"><circle class="cb" cx="435" cy="376" r="6"/><text class="f" x="417" y="379.5">W/F:6.0</text></g>
<g id="c-f26"><circle class="cg" cx="594" cy="375" r="6"/><text class="f" x="562" y="378.5">s-ZrO2:92.0-100.0</text></g>
<g id="c-f27"><circle class="cp" cx="372" cy="382" r="6"/><text class="f" x="334" y="385.5">b-Ni:47.0-100.0</text></g>
<g id="c-f28"><circle class="cy" cx="340" cy="396" r="6"/><text class="f" x="311" y="399.5">b2-Mg:4.0-10.0</text></g>
<g id="c-f29"><circle class="cg" cx="378" cy="403" r="6"/><text class="f" x="360" y="406.5">s-B:62.5-80.0</text></g>
<g id="c-f30"><circle class="cy" cx="466" cy="403" r="6"/><text class="f" x="437" y="406.5">b2-Cu:0.0-3.0</text></g>
<g id="c-f31"><circle class="cb" cx="367" cy="415" r="6"/><text class="f" x="349" y="418.5">W/F:0.833</text></g>
<g id="c-f32"><circle class="cg" cx="477" cy="413" r="6"/><text class="f" x="453" y="416.5">s-PC:62.5-80.0</text></g>
<g id="c-f33"><circle class="cb" cx="568" cy="414" r="6"/><text class="f" x="550" y="417.5">W/F:16.7</text></g>
<g id="c-f34"><circle class="cb" cx="675" cy="420" r="6"/><text class="f" x="657" y="423.5">W/F:5.0</text></g>
<g id="c-f35"><circle class="cy" cx="408" cy="425" r="6"/><text class="f" x="373" y="428.5">b2-VOx:4.0-10.0</text></g>
<g id="c-f36"><circle class="cy" cx="515" cy="423" r="6"/><text class="f" x="488" y="426.5">b2-Pr:0.0-3.0</text></g>
<g id="c-f37"><circle class="cp" cx="432" cy="435" r="6"/><text class="f" x="410" y="438.5">b-Ce:17.0-26.0</text></g>
<g id="c-f38"><circle class="co" cx="516" cy="435" r="6"/><text class="f" x="493" y="438.5">inert:5.0</text></g>
<g id="c-f39"><circle class="ct" cx="490" cy="444" r="6"/><text class="f" x="462" y="447.5">cTime:0.5</text></g>
<g id="c-f40"><circle class="cy" cx="397" cy="449" r="6"/><text class="f" x="370" y="452.5">b2-Ni:12.5-17.0</text></g>
<g id="c-f41"><circle class="cg" cx="627" cy="449" r="6"/><text class="f" x="575" y="452.5">s-MCM-41:0.0-60.7</text></g>
<g id="c-f42"><circle class="cg" cx="448" cy="454" r="6"/><text class="f" x="392" y="457.5">s-Cs-Zeolite:62.5-80.0</text></g>
<g id="c-f43"><circle class="cb" cx="533" cy="453" r="6"/><text class="f" x="515" y="456.5">W/F:1.33</text></g>
<g id="c-f44"><circle class="cy" cx="406" cy="462" r="6"/><text class="f" x="383" y="465.5">b2-Y:0.0-3.0</text></g>
<g id="c-f45"><circle class="cb" cx="581" cy="461" r="6"/><text class="f" x="563" y="464.5">W/F:7.14</text></g>
<g id="c-f46"><circle class="cg" cx="503" cy="467" r="6"/><text class="f" x="473" y="470.5">s-MgO:0.0-60.7</text></g>
<g id="c-f47"><circle class="cy" cx="562" cy="477" r="6"/><text class="f" x="532" y="480.5">b2-Gd:4.0-10.0</text></g>
<g id="c-f48"><circle class="cy" cx="478" cy="482" r="6"/><text class="f" x="452" y="485.5">b2-La:4.0-10.0</text></g>
<g id="c-f49"><circle class="cb" cx="543" cy="491" r="6"/><text class="f" x="525" y="494.5">W/F:16.67</text></g>
<g id="c-f50"><circle class="cy" cx="473" cy="495" r="6"/><text class="f" x="438" y="498.5">b2-VOx:0.0-3.0</text></g>
<g id="c-f51"><circle class="cy" cx="387" cy="502" r="6"/><text class="f" x="360" y="505.5">b2-Eu:4.0-10.0</text></g>
<g id="c-f52"><circle class="cb" cx="590" cy="536" r="6"/><text class="f" x="572" y="539.5">W/F:0.48</text></g>

<g id="c-conv88"><circle class="cv" cx="642" cy="280" r="13"/><text class="t" x="642" y="285.5">conv:88.41-100.0</text></g>
<g id="c-conv77"><circle class="cv" cx="506" cy="373" r="20"/><text class="t" x="506" y="379.5">conv:77.52-88.38</text></g>
<g id="c-conv67"><text class="ts" x="376" y="370.5" text-anchor="end">conv:67.59-77.5</text></g>

<g id="c-t290"><circle class="p" cx="529" cy="315" r="5.5"/><text class="t" x="529" y="318.5">T:290</text></g>
<g id="c-t320"><circle class="p" cx="560" cy="315" r="5.5"/><text class="t" x="559" y="318.5">T:320</text></g>
<g id="c-t310"><circle class="p" cx="600" cy="315" r="5.5"/><text class="t" x="599" y="318.5">T:310</text></g>
<g id="c-t340"><circle class="p" cx="383" cy="328" r="5.5"/><text class="t" x="383" y="331.5">T:340</text></g>
<g id="c-t330"><circle class="p" cx="605" cy="354" r="5.5"/><text class="t" x="604" y="357.5">T:330</text></g>
<g id="c-t325"><circle class="p" cx="578" cy="385" r="5.5"/><text class="t" x="577" y="388.5">T:325</text></g>
<g id="c-t360"><circle class="p" cx="427" cy="392" r="5.5"/><text class="t" x="426" y="395.5">T:360</text></g>
<g id="c-t350"><circle class="p" cx="439" cy="415" r="5.5"/><text class="t" x="438" y="418.5">T:350</text></g>
<g id="c-t380"><circle class="p" cx="373" cy="468" r="5.5"/><text class="t" x="375" y="471.5">T:380</text></g>
<g id="c-t375"><circle class="p" cx="412" cy="473" r="5.5"/><text class="t" x="411" y="476.5">T:375</text></g>
<g id="c-t370"><circle class="p" cx="450" cy="473" r="5.5"/><text class="t" x="450" y="476.5">T:370</text></g>
<g id="c-t390"><circle class="p" cx="402" cy="487" r="5.5"/><text class="t" x="401" y="490.5">T:390</text></g>
<g id="c-t430"><circle class="p" cx="460" cy="507" r="5.5"/><text class="t" x="459" y="510.5">T:430</text></g>
<g id="c-t800"><circle class="p" cx="572" cy="503" r="5.5"/><text class="t" x="572" y="506.5">T:800</text></g>
<g id="c-t760"><circle class="p" cx="579" cy="545" r="5.5"/><text class="t" x="579" y="548.5">T:760</text></g>
</g>
<g id="c-note"><rect class="note" x="591" y="480" width="88" height="33"/><text class="nt" x="594" y="495">290~430°C</text><text class="nt" x="594" y="508">760°C,800°C</text></g>

<!-- connectors -->
<g id="connectors">
<line class="arr" x1="242" y1="48" x2="460" y2="143"/>
<line class="arr" x1="131" y1="125" x2="226" y2="282"/>
<line class="arr" x1="243" y1="130" x2="483" y2="352"/>
</g>
</svg>
